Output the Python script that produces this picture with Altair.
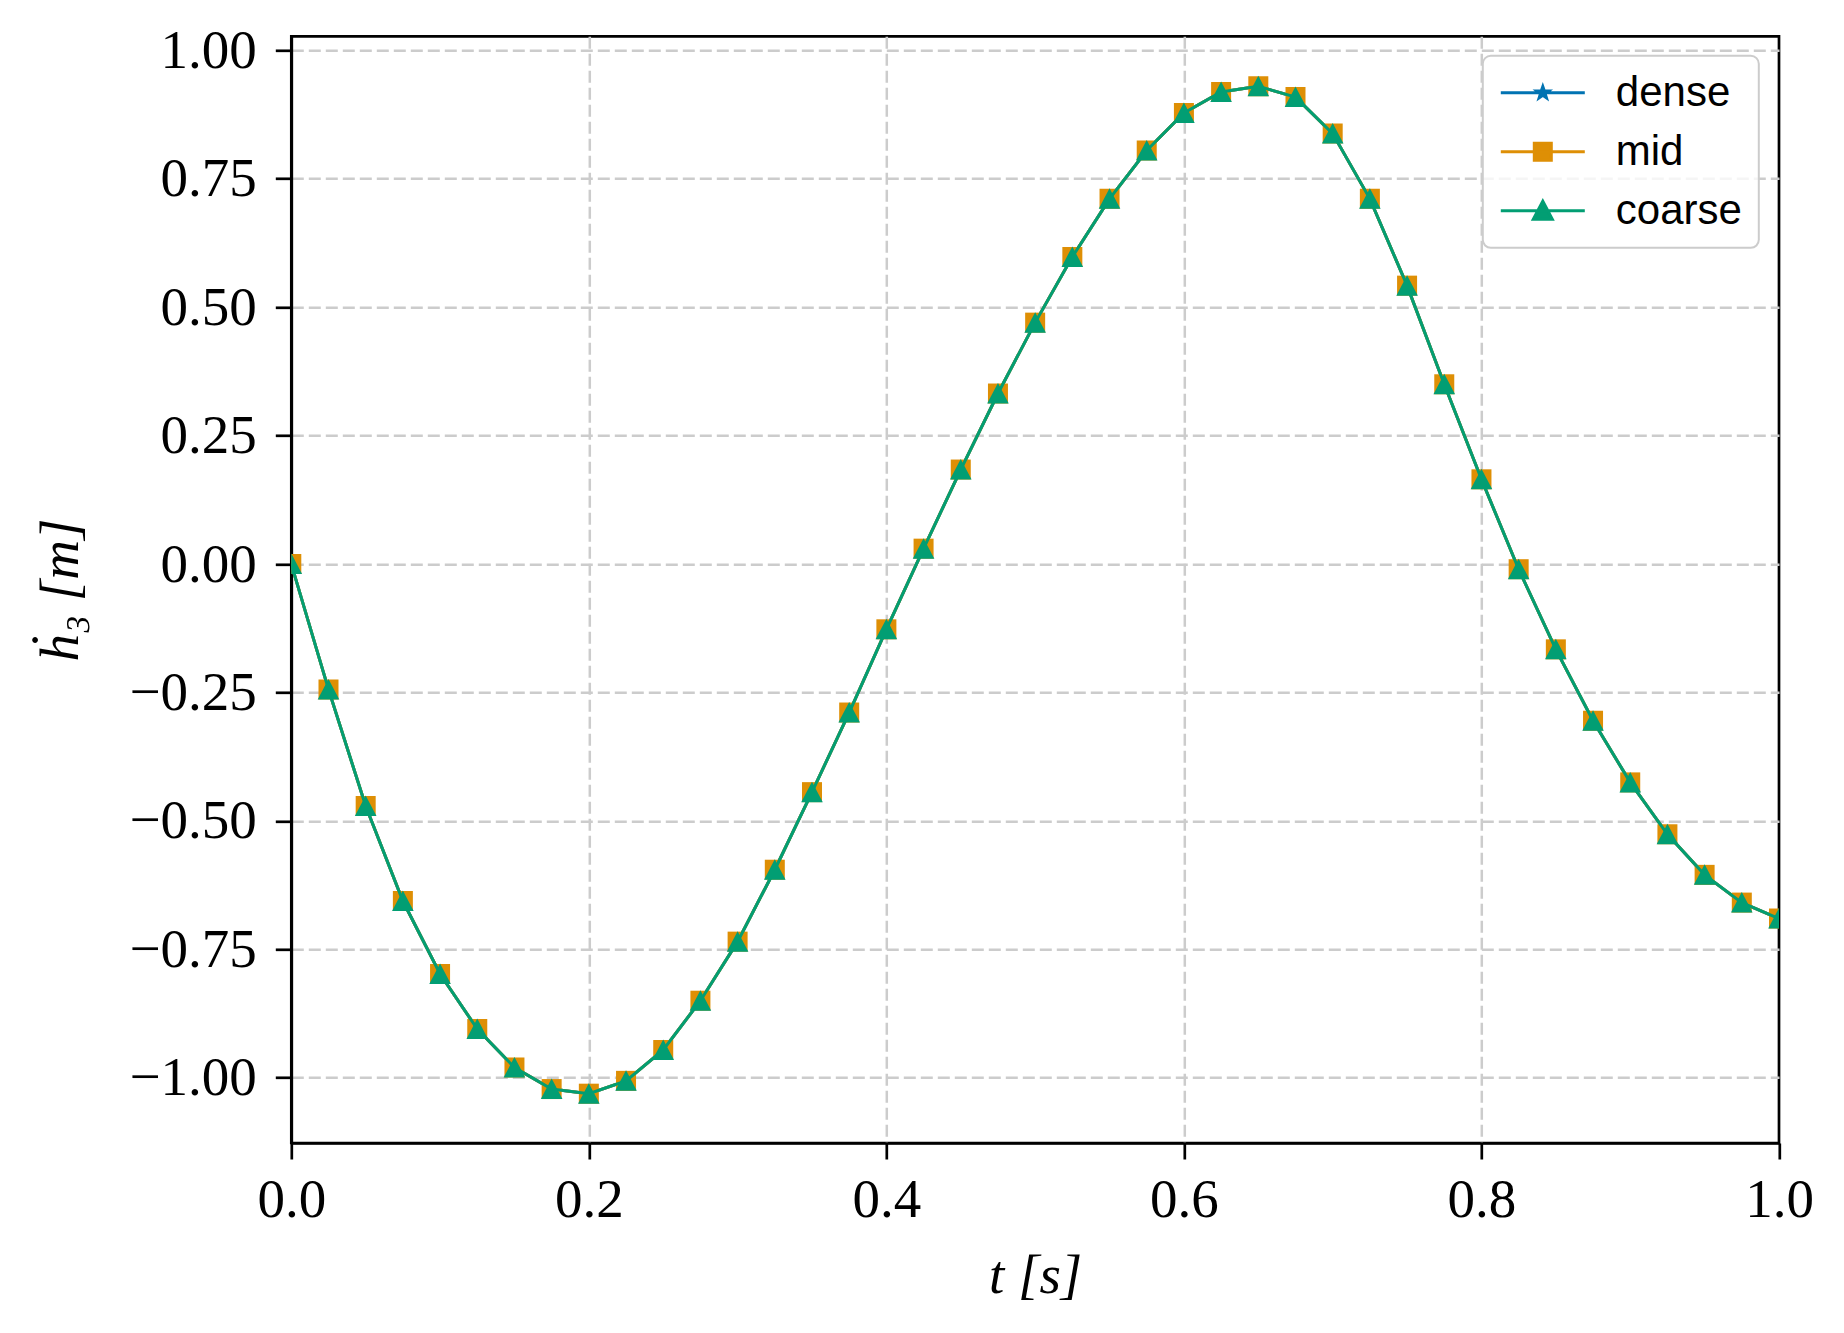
import altair as alt
import pandas as pd

# ---- data ----
t_values = [0.0, 0.025, 0.05, 0.075, 0.1, 0.125, 0.15, 0.175, 0.2, 0.225,
            0.25, 0.275, 0.3, 0.325, 0.35, 0.375, 0.4, 0.425, 0.45, 0.475,
            0.5, 0.525, 0.55, 0.575, 0.6, 0.625, 0.65, 0.675, 0.7, 0.725,
            0.75, 0.775, 0.8, 0.825, 0.85, 0.875, 0.9, 0.925, 0.95, 0.975, 1.0]

dense_values = [0.000, -0.244, -0.471, -0.656, -0.798, -0.905, -0.980, -1.022, -1.031, -1.006,
                -0.946, -0.850, -0.735, -0.595, -0.444, -0.289, -0.127, 0.030, 0.184, 0.332,
                0.470, 0.598, 0.711, 0.805, 0.878, 0.919, 0.930, 0.909, 0.838, 0.711,
                0.542, 0.350, 0.165, -0.010, -0.166, -0.305, -0.425, -0.526, -0.605, -0.659, -0.690]
mid_values = [0.000, -0.244, -0.471, -0.656, -0.798, -0.905, -0.980, -1.022, -1.031, -1.006,
              -0.946, -0.850, -0.735, -0.595, -0.444, -0.289, -0.127, 0.030, 0.184, 0.332,
              0.470, 0.598, 0.711, 0.805, 0.878, 0.919, 0.930, 0.909, 0.838, 0.711,
              0.542, 0.350, 0.165, -0.010, -0.166, -0.305, -0.425, -0.526, -0.605, -0.659, -0.690]
coarse_values = [0.000, -0.244, -0.471, -0.656, -0.798, -0.905, -0.980, -1.022, -1.031, -1.006,
                 -0.946, -0.850, -0.735, -0.595, -0.444, -0.289, -0.127, 0.030, 0.184, 0.332,
                 0.470, 0.598, 0.711, 0.805, 0.878, 0.919, 0.930, 0.909, 0.838, 0.711,
                 0.542, 0.350, 0.165, -0.010, -0.166, -0.305, -0.425, -0.526, -0.605, -0.659, -0.690]

series_names = ["dense", "mid", "coarse"]
series_colors = ["#0173b2", "#de8f05", "#029e73"]

x_ticks = [0.0, 0.2, 0.4, 0.6, 0.8, 1.0]
y_ticks = [-1.0, -0.75, -0.5, -0.25, 0.0, 0.25, 0.5, 0.75, 1.0]

# marker shapes (unit paths, scaled by sqrt(size)/2)
STAR = ("M0,-0.72L0.169,-0.233L0.685,-0.222L0.274,0.089L0.423,0.582L0,0.288"
        "L-0.423,0.582L-0.274,0.089L-0.685,-0.222L-0.169,-0.233Z")
SQUARE = "M-1,-1L1,-1L1,1L-1,1Z"
TRIANGLE = "M0,-1.05L1.08,1.0L-1.08,1.0Z"
marker_paths = [STAR, SQUARE, TRIANGLE]

# legend symbols: a short line with the marker in its middle
LEG_LINE = "M-4.2,0L4.2,0"
LEG_STAR = ("M0,-0.62L0.146,-0.2L0.59,-0.19L0.236,0.077L0.364,0.5L0,0.248"
            "L-0.364,0.5L-0.236,0.077L-0.59,-0.19L-0.146,-0.2Z")
LEG_SQUARE = "M-0.85,-0.85L0.85,-0.85L0.85,0.85L-0.85,0.85Z"
LEG_TRIANGLE = "M0,-0.95L0.95,0.85L-0.95,0.85Z"
legend_paths = [LEG_LINE + LEG_STAR, LEG_LINE + LEG_SQUARE, LEG_LINE + LEG_TRIANGLE]

frames = []
for name, vals in zip(series_names, [dense_values, mid_values, coarse_values]):
    frames.append(pd.DataFrame({"t": t_values, "value": vals, "series": name}))
df = pd.concat(frames, ignore_index=True)

x_enc = alt.X("t:Q", scale=alt.Scale(domain=[0, 1], nice=False, zero=False),
              axis=alt.Axis(values=x_ticks, format=".1f", title="t [s]",
                            labelFlush=False, labelPadding=14, titlePadding=22,
                            gridOpacity={"condition": {"test": "datum.value >= 0.999 || datum.value <= 0.001",
                                                       "value": 0}, "value": 1}))
y_enc = alt.Y("value:Q", scale=alt.Scale(domain=[-1.127, 1.0274], nice=False, zero=False),
              axis=alt.Axis(values=y_ticks, format=".2f", title="ḣ₃ [m]",
                            labelPadding=19, titlePadding=40))

MS = 400

legend = alt.Legend(
    title=None, orient="none", legendX=1191.5, legendY=19.5,
    padding=16, rowPadding=17, symbolOffset=23, labelOffset=52,
    labelFont="Liberation Sans", labelFontSize=42, labelColor="black",
    symbolSize=MS, symbolStrokeWidth=3, symbolOpacity=1,
    fillColor="rgba(255,255,255,0.8)", strokeColor="#cccccc",
    cornerRadius=8,
)

layers = []
for name, color, path in zip(series_names, series_colors, marker_paths):
    base = alt.Chart(df).transform_filter(alt.datum.series == name)
    line = base.mark_line(strokeWidth=3, color=color, clip=True).encode(x=x_enc, y=y_enc)
    pts = base.mark_point(filled=True, size=MS, opacity=1, color=color, shape=path,
                          clip=True).encode(x=x_enc, y=y_enc)
    layers += [line, pts]

# invisible layer that only carries the legend (line + marker symbols)
legend_layer = alt.Chart(df).mark_point(filled=True, size=MS, opacity=0).encode(
    x=x_enc, y=y_enc,
    color=alt.Color("series:N", scale=alt.Scale(domain=series_names, range=series_colors), legend=legend),
    stroke=alt.Stroke("series:N", scale=alt.Scale(domain=series_names, range=series_colors), legend=legend),
    shape=alt.Shape("series:N", scale=alt.Scale(domain=series_names, range=legend_paths), legend=legend),
)
layers.insert(0, legend_layer)

chart = alt.layer(*layers).properties(
    width=1487.7, height=1106.7,
    autosize=alt.AutoSizeParams(type="none"),
    padding={"left": 283.3, "top": 28.3, "right": 50, "bottom": 170},
).configure_axis(
    labelFont="Liberation Serif", labelFontSize=55, labelColor="black",
    titleFont="Liberation Serif", titleFontSize=55, titleFontWeight="normal",
    titleFontStyle="italic", titleColor="black",
    tickColor="black", tickWidth=2.7, tickSize=16,
    domainColor="black", domainWidth=2.7,
    gridColor="#cccccc", gridWidth=2.5, gridDash=[12, 5],
).configure_view(
    stroke="black", strokeWidth=2.7
).configure_legend(
    strokeWidth=2
)

chart.save("out.html", embed_options={"renderer": "svg", "actions": False})
